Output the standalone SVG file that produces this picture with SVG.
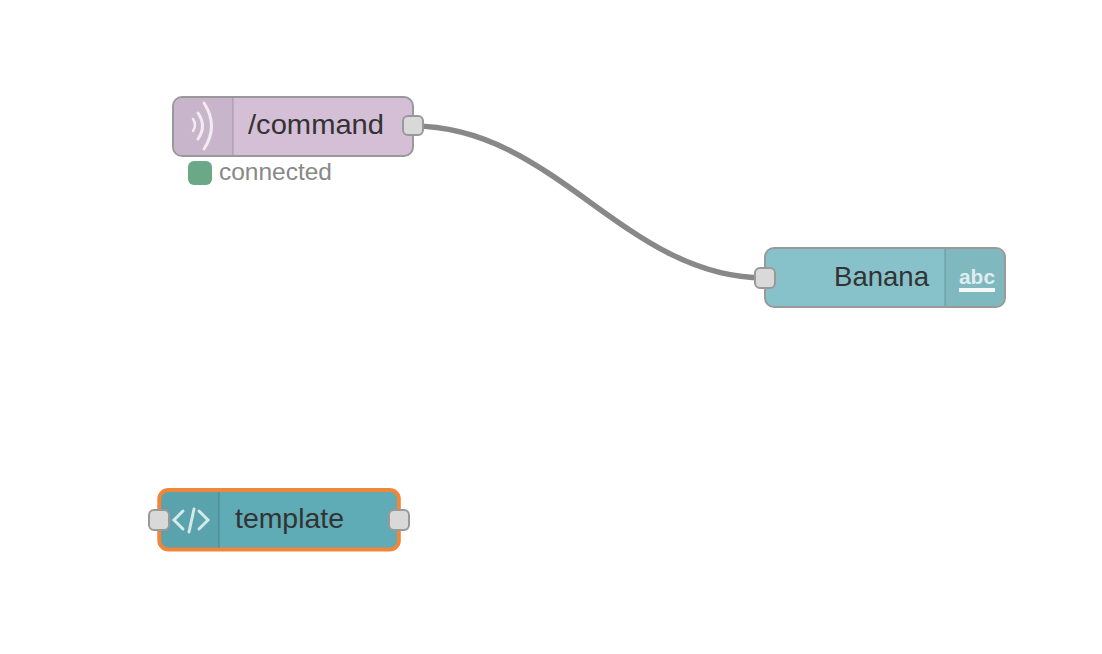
<svg xmlns="http://www.w3.org/2000/svg" width="1102" height="654" viewBox="0 0 1102 654">
<style>
.node{stroke:#999;stroke-width:2}
.port{fill:#d9d9d9;stroke:#999;stroke-width:2}
.lbl{font-family:"Liberation Sans",Arial,sans-serif;font-size:28px;fill:#333}
.ico{fill:#000;fill-opacity:.05}
.sep{stroke:#000;stroke-opacity:.1;stroke-width:2}
.w{fill:none;stroke:#fff;stroke-opacity:.75;stroke-linecap:round}
</style>
<rect width="1102" height="654" fill="#fff"/>
<g id="connectors">
<path d="M413 126C555 126 625 278 765 278" fill="none" stroke="#888" stroke-width="5.500"/>
</g>
<g id="node-command">
<rect class="node" x="173" y="97" width="240" height="59" rx="9" fill="#d4bfd6"/>
<path class="ico" d="M174 107a9 9 0 0 1 9-9h50v57h-50a9 9 0 0 1-9-9z"/>
<line class="sep" x1="233" y1="98" x2="233" y2="155"/>
<path class="w" stroke-width="2.500" d="M193 119q4 6 0 12"/>
<path class="w" stroke-width="3" d="M198 113q9 13 0 26"/>
<path class="w" stroke-width="3" d="M204 103q15 23 0 46"/>
<text class="lbl" x="248" y="134" textLength="136" lengthAdjust="spacingAndGlyphs">/command</text>
<rect class="port" x="403" y="116" width="20" height="19" rx="5"/>
<rect x="188" y="161" width="24" height="24" rx="6" fill="#6aa888"/>
<text x="219" y="180" font-family="Liberation Sans,Arial,sans-serif" font-size="24" fill="#888" textLength="113" lengthAdjust="spacingAndGlyphs">connected</text>
</g>
<g id="node-banana">
<rect class="node" x="765" y="248" width="240" height="59" rx="9" fill="#87c2ca"/>
<path class="ico" d="M945 249h50a9 9 0 0 1 9 9v39a9 9 0 0 1-9 9h-50z"/>
<line class="sep" x1="945" y1="249" x2="945" y2="306"/>
<text x="959" y="284" font-family="Liberation Sans,Arial,sans-serif" font-size="20" font-weight="700" fill="#fff" fill-opacity=".75" textLength="36" lengthAdjust="spacingAndGlyphs">abc</text>
<rect x="959" y="288" width="36" height="4" fill="#fff" fill-opacity=".9"/>
<text class="lbl" x="834" y="286" textLength="95" lengthAdjust="spacingAndGlyphs">Banana</text>
<rect class="port" x="755" y="268" width="20" height="20" rx="5"/>
</g>
<g id="node-template">
<rect x="159.300" y="490" width="239.500" height="59.500" rx="9" fill="#5fabb6" stroke="#f0863a" stroke-width="4"/>
<path class="ico" d="M161 500a8 8 0 0 1 8-8h50v56h-50a8 8 0 0 1-8-8z"/>
<line class="sep" x1="219" y1="492" x2="219" y2="548"/>
<path class="w" stroke-width="3" d="M183 511l-9 9 9 9M199 511l9 9-9 9" stroke-linejoin="miter"/>
<path class="w" stroke-width="3" stroke-opacity=".55" d="M194 509l-5 23"/>
<text class="lbl" x="235" y="528" textLength="109" lengthAdjust="spacingAndGlyphs">template</text>
<rect class="port" x="149" y="510" width="20" height="20" rx="5"/>
<rect class="port" x="389" y="510" width="20" height="20" rx="5"/>
</g>
</svg>
